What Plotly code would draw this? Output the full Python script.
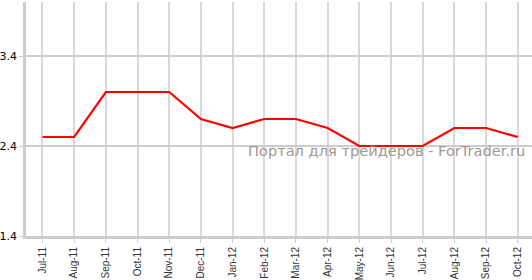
import plotly.graph_objects as go

months = ["Jul-11","Aug-11","Sep-11","Oct-11","Nov-11","Dec-11","Jan-12","Feb-12",
          "Mar-12","Apr-12","May-12","Jun-12","Jul-12","Aug-12","Sep-12","Oct-12"]
values = [2.5,2.5,3.0,3.0,3.0,2.7,2.6,2.7,2.7,2.6,2.4,2.4,2.4,2.6,2.6,2.5]
y_ticks = [1.4, 2.4, 3.4]

fig = go.Figure()
fig.add_trace(go.Scatter(x=list(range(len(months))), y=values, mode="lines",
                         line=dict(color="#ff0000", width=2.2), hoverinfo="skip"))

fig.update_layout(
    width=532, height=280, margin=dict(l=24, r=0, t=2, b=41),
    paper_bgcolor="white", plot_bgcolor="white", showlegend=False,
    xaxis=dict(range=[-0.52, 15.45], tickmode="array", tickvals=list(range(len(months))),
               ticktext=months, tickangle=-90, showgrid=True, gridcolor="#d9d9d9", gridwidth=1.5,
               showline=True, linecolor="#cccccc", linewidth=3, ticks="outside", ticklen=4,
               tickcolor="#cccccc", tickfont=dict(family="Liberation Sans, Arial", size=10, color="#333333"),
               zeroline=False),
    yaxis=dict(range=[1.4, 4.0], tickmode="array", tickvals=y_ticks,
               ticktext=[f"{v:.1f}" for v in y_ticks], showgrid=True, gridcolor="#cccccc", gridwidth=1.5,
               showline=True, linecolor="#cccccc", linewidth=2.5, ticks="outside", ticklen=4,
               tickcolor="#cccccc", tickfont=dict(family="DejaVu Sans, Verdana", size=11, color="#000000"),
               zeroline=False),
    annotations=[dict(text="Портал для трейдеров - ForTrader.ru", xref="paper", yref="paper",
                      x=0.99, y=0.365, xanchor="right", yanchor="middle", showarrow=False,
                      font=dict(family="DejaVu Sans, Verdana", size=14.6, color="#a39595"))],
)
fig.write_html("out.html")
